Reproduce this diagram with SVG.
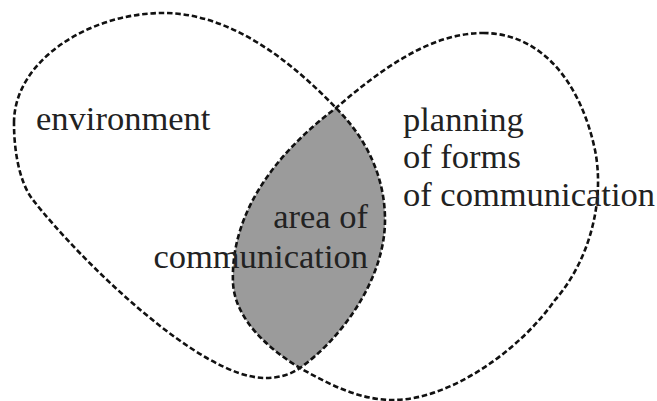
<svg xmlns="http://www.w3.org/2000/svg" width="657" height="401" viewBox="0 0 657 401">
  <style>
    .blob { fill: none; stroke: #111; stroke-width: 2.6; stroke-dasharray: 5.5 2.8; }
    .overlap { fill: #9b9b9b; stroke: none; }
    .label { font-family: "Liberation Serif", "DejaVu Serif", serif; font-size: 34.5px; fill: #222; }
  </style>
  <rect width="657" height="401" fill="#ffffff"/>
  <g id="area-of-communication">
    <path class="overlap" d="M 336,108 C 365,137 385,175 385,220 C 385,280 340,340 300,368 C 270,350 235,320 233,283 C 230,210 280,150 336,108 Z"/>
  </g>
  <g id="environment">
    <path class="blob" d="M 14,123 C 14,60 90,13 163,13 C 230,13 290,60 336,108 C 365,137 385,175 385,220 C 385,280 340,340 300,368 C 290,375 278,378 265,378 C 200,378 80,260 33,200 C 19,182 14,150 14,123 Z"/>
    <text class="label" x="36" y="130">environment</text>
  </g>
  <g id="planning">
    <path class="blob" d="M 483,33 C 540,33 580,80 595,150 C 605,200 590,260 555,300 C 520,350 450,400 393,400 C 360,400 330,385 300,368 C 270,350 235,320 233,283 C 230,210 280,150 336,108 C 380,70 430,33 483,33 Z"/>
    <text class="label" x="403" y="131">planning</text>
    <text class="label" x="403" y="168">of forms</text>
    <text class="label" x="403" y="206">of communication</text>
  </g>
  <g id="area-label">
    <text class="label" x="368" y="228" text-anchor="end">area of</text>
    <text class="label" x="368" y="268" text-anchor="end">communication</text>
  </g>
</svg>
